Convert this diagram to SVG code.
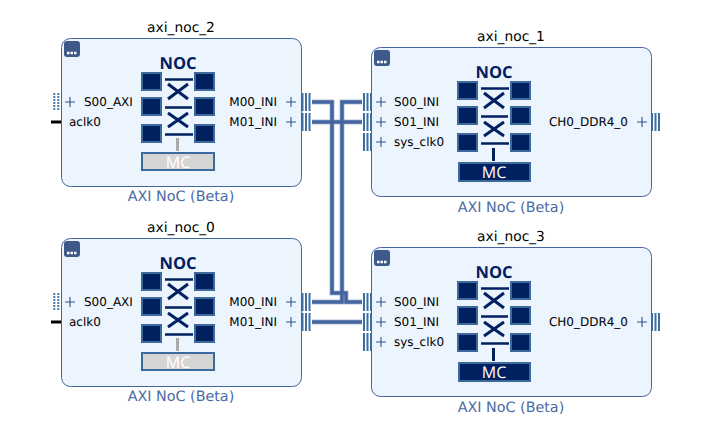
<svg xmlns="http://www.w3.org/2000/svg" width="719" height="432" viewBox="0 0 719 432">
<style>
text{font-family:"DejaVu Sans",sans-serif;fill:#000;text-rendering:geometricPrecision}
.t{font-size:13.8px;text-anchor:middle}
.b{font-size:14.3px;text-anchor:middle;fill:#4a6aa5}
.p{font-size:12px}
.e{text-anchor:end}
.n{font-family:"Open Sans",sans-serif;font-size:16.500px;font-weight:700;text-anchor:middle;fill:#002060}
.mc{font-family:"Open Sans",sans-serif;font-size:16px;text-anchor:middle;fill:#fff}
.box{fill:#ecf4fe;stroke:#45659f;stroke-width:1}
.sq{fill:#002060;stroke:#3c6a9c;stroke-width:2}
.bar{stroke:#002060;stroke-width:2.500;fill:none}
.x{stroke:#002060;stroke-width:3;fill:none}
.plus{stroke:#2f5288;stroke-width:1.100;fill:none}
.pin{stroke:#3c6f9f;stroke-width:2;fill:none}
.dot{stroke:#4a7cab;stroke-width:2;stroke-dasharray:2 1;fill:none}
.halo{stroke:#b4c2dc;stroke-width:5;fill:none}
.w{stroke:#44659f;stroke-width:3.500;fill:none}
</style>
<defs>
<g id="icon">
<rect class="sq" x="142" y="73" width="19" height="17"/><rect class="sq" x="142" y="98" width="19" height="17"/><rect class="sq" x="142" y="125" width="19" height="17"/>
<rect class="sq" x="195" y="73" width="19" height="17"/><rect class="sq" x="195" y="98" width="19" height="17"/><rect class="sq" x="195" y="125" width="19" height="17"/>
<path class="bar" d="M165 79.500H193M165 107.500H192M165 134.500H193"/>
<path class="x" d="M168 99L188 84M168 84L188 99M168 127L188 113M168 113L188 127"/>
</g>
<g id="menu"><rect x="64" y="41" width="16" height="16" rx="3" fill="#3f5a8a"/><path d="M67 53H77" stroke="#fff" stroke-width="2.500" stroke-dasharray="2.500 1"/></g>
<path id="plus" class="plus" d="M-5 0H5M0 -5V5"/>
<path id="pin3" class="pin" d="M2 -9V9M5.500 -9V9M9 -9V9"/>
<path id="dots" class="dot" d="M0 -9V9M4 -9V9"/>
</defs>
<g id="connectors">
<path class="halo" d="M312 102H332V293H346V302H362M312 302H342V102H362M312 122H362M312 322H362"/>
<path class="w" d="M312 102H332V293H346V302H362M312 302H342V102H362M312 122H362M312 322H362"/>
</g>
<g id="axi_noc_2">
<text class="t" x="181" y="31.500">axi_noc_2</text>
<use href="#dots" x="54.300" y="102"/><path d="M51 122H61" stroke="#000" stroke-width="3"/>
<use href="#pin3" x="300.500" y="102"/><use href="#pin3" x="300.500" y="122"/>
<rect class="box" x="61.500" y="38.500" width="240" height="148" rx="9"/>
<use href="#menu"/>
<use href="#plus" x="70" y="102"/><use href="#plus" x="291" y="102"/><use href="#plus" x="291" y="122"/>
<text class="p" x="84" y="106">S00_AXI</text><text class="p" x="69" y="126">aclk0</text>
<text class="p e" x="277" y="106">M00_INI</text><text class="p e" x="277" y="126">M01_INI</text>
<text class="n" x="178" y="68.500">NOC</text>
<use href="#icon"/>
<path d="M177.500 138V151" stroke="#aaa" stroke-width="3"/>
<rect x="142" y="153" width="72" height="17" fill="#d5d5d5" stroke="#3c6a9c" stroke-width="2"/>
<text class="mc" x="178" y="168">MC</text>
<text class="b" x="181" y="201">AXI NoC (Beta)</text>
</g>
<g id="axi_noc_0" transform="translate(0 200)">
<text class="t" x="181" y="31.500">axi_noc_0</text>
<use href="#dots" x="54.300" y="102"/><path d="M51 122H61" stroke="#000" stroke-width="3"/>
<use href="#pin3" x="300.500" y="102"/><use href="#pin3" x="300.500" y="122"/>
<rect class="box" x="61.500" y="38.500" width="240" height="148" rx="9"/>
<use href="#menu"/>
<use href="#plus" x="70" y="102"/><use href="#plus" x="291" y="102"/><use href="#plus" x="291" y="122"/>
<text class="p" x="84" y="106">S00_AXI</text><text class="p" x="69" y="126">aclk0</text>
<text class="p e" x="277" y="106">M00_INI</text><text class="p e" x="277" y="126">M01_INI</text>
<text class="n" x="178" y="68.500">NOC</text>
<use href="#icon"/>
<path d="M177.500 138V151" stroke="#aaa" stroke-width="3"/>
<rect x="142" y="153" width="72" height="17" fill="#d5d5d5" stroke="#3c6a9c" stroke-width="2"/>
<text class="mc" x="178" y="168">MC</text>
<text class="b" x="181" y="201">AXI NoC (Beta)</text>
</g>
<g id="axi_noc_1">
<text class="t" x="511" y="40.500">axi_noc_1</text>
<use href="#pin3" x="362" y="102"/><use href="#pin3" x="362" y="122"/><use href="#pin3" x="362" y="142"/>
<use href="#pin3" x="650" y="122"/>
<rect class="box" x="371.500" y="47.500" width="280" height="149" rx="9"/>
<use href="#menu" x="310" y="9"/>
<use href="#plus" x="381" y="102"/><use href="#plus" x="381" y="122"/><use href="#plus" x="381" y="142"/><use href="#plus" x="642" y="122"/>
<text class="p" x="394" y="106">S00_INI</text><text class="p" x="394" y="126">S01_INI</text><text class="p" x="394" y="146">sys_clk0</text>
<text class="p e" x="628" y="126">CH0_DDR4_0</text>
<text class="n" x="494" y="78">NOC</text>
<use href="#icon" x="316" y="9"/>
<path d="M493.500 148V161" stroke="#002060" stroke-width="3"/>
<rect x="459" y="163" width="71" height="18" fill="#002060" stroke="#3c6a9c" stroke-width="2"/>
<text class="mc" x="494" y="178">MC</text>
<text class="b" x="511" y="212">AXI NoC (Beta)</text>
</g>
<g id="axi_noc_3" transform="translate(0 200)">
<text class="t" x="511" y="40.500">axi_noc_3</text>
<use href="#pin3" x="362" y="102"/><use href="#pin3" x="362" y="122"/><use href="#pin3" x="362" y="142"/>
<use href="#pin3" x="650" y="122"/>
<rect class="box" x="371.500" y="47.500" width="280" height="149" rx="9"/>
<use href="#menu" x="310" y="9"/>
<use href="#plus" x="381" y="102"/><use href="#plus" x="381" y="122"/><use href="#plus" x="381" y="142"/><use href="#plus" x="642" y="122"/>
<text class="p" x="394" y="106">S00_INI</text><text class="p" x="394" y="126">S01_INI</text><text class="p" x="394" y="146">sys_clk0</text>
<text class="p e" x="628" y="126">CH0_DDR4_0</text>
<text class="n" x="494" y="78">NOC</text>
<use href="#icon" x="316" y="9"/>
<path d="M493.500 148V161" stroke="#002060" stroke-width="3"/>
<rect x="459" y="163" width="71" height="18" fill="#002060" stroke="#3c6a9c" stroke-width="2"/>
<text class="mc" x="494" y="178">MC</text>
<text class="b" x="511" y="212">AXI NoC (Beta)</text>
</g>
</svg>
